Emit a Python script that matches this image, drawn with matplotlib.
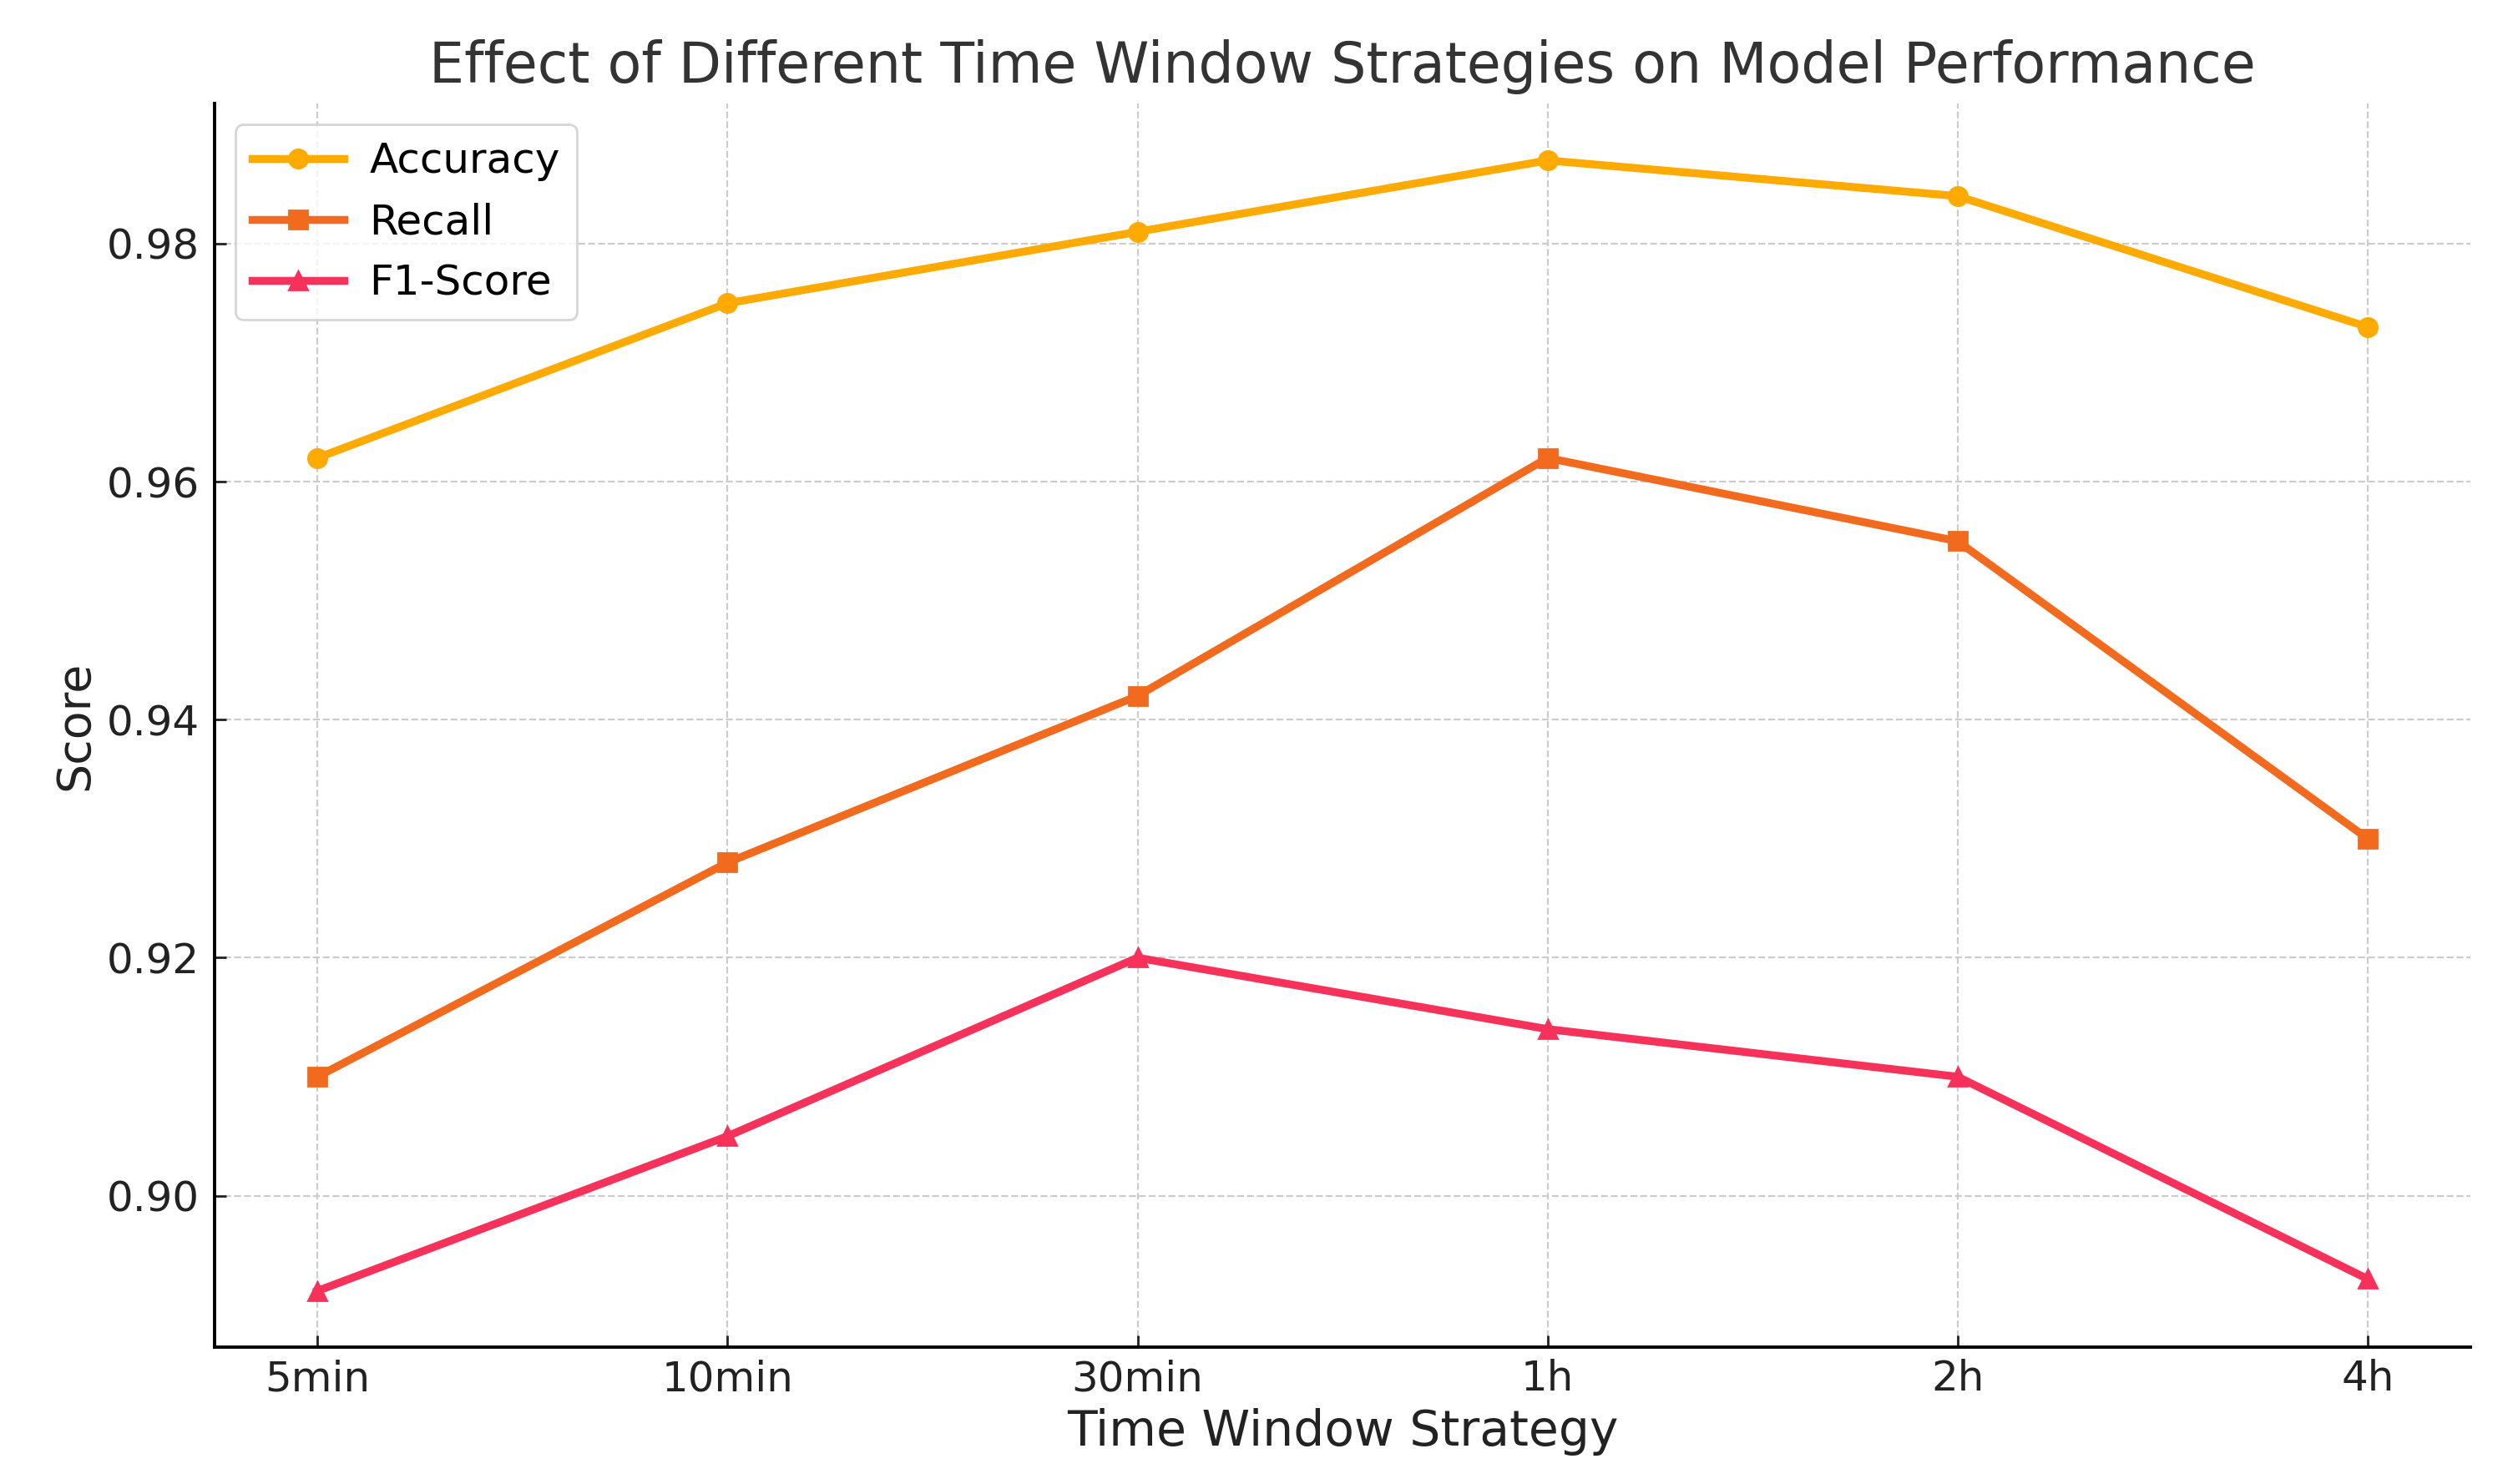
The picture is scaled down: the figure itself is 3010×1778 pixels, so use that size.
import matplotlib.pyplot as plt

strategies = ['5min', '10min', '30min', '1h', '2h', '4h']
accuracy = [0.962, 0.975, 0.981, 0.987, 0.984, 0.973]
recall = [0.910, 0.928, 0.942, 0.962, 0.955, 0.930]
f1_score = [0.892, 0.905, 0.920, 0.914, 0.910, 0.893]


def plot_scores():
    fig, ax = plt.subplots(figsize=(15.05, 8.89), dpi=200)
    fig.subplots_adjust(left=0.0855, right=0.983, top=0.930, bottom=0.092)

    ax.plot(strategies, accuracy, marker='o', color='#FFAA00', linewidth=3.4,
            markersize=8, label='Accuracy')
    ax.plot(strategies, recall, marker='s', color='#F26A1E', linewidth=3.4,
            markersize=8, label='Recall')
    ax.plot(strategies, f1_score, marker='^', color='#F7325A', linewidth=3.4,
            markersize=8, label='F1-Score')

    ax.grid(True, linestyle='--', color='#cccccc', linewidth=0.8)
    ax.spines['top'].set_visible(False)
    ax.spines['right'].set_visible(False)
    ax.spines['left'].set_linewidth(1.4)
    ax.spines['bottom'].set_linewidth(1.4)
    ax.tick_params(labelsize=18, colors='#222222', direction='in', length=5, width=1.0)
    ax.tick_params(axis='y', pad=6.5)
    ax.tick_params(axis='x', pad=5)

    ax.set_title('Effect of Different Time Window Strategies on Model Performance',
                 fontsize=24, color='#333333', pad=9)
    ax.set_xlabel('Time Window Strategy', fontsize=21, color='#222222')
    ax.set_ylabel('Score', fontsize=20, color='#222222')
    ax.legend(loc='upper left', fontsize=18, handlelength=2.2, handletextpad=0.6,
              edgecolor='#cccccc')

    fig.savefig('out.png')


if __name__ == "__main__":
    plot_scores()
